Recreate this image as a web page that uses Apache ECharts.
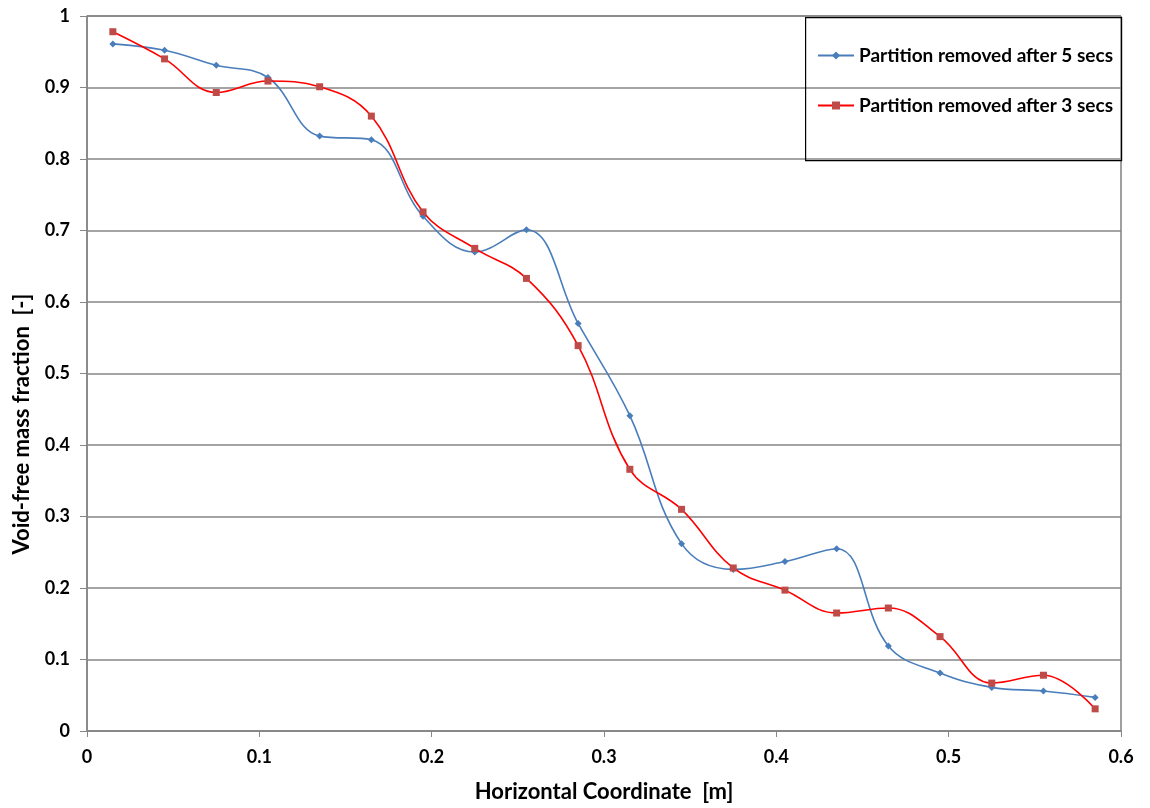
<!DOCTYPE html>
<html>
<head>
<meta charset="utf-8">
<script src="https://cdn.jsdelivr.net/npm/echarts@6/dist/echarts.min.js"></script>
<style>
html,body{margin:0;padding:0;background:#fff;}
#chart{width:1150px;height:808px;}
</style>
</head>
<body>
<div id="chart"></div>
<script>
const xCoords = [0.015,0.045,0.075,0.105,0.135,0.165,0.195,0.225,0.255,0.285,0.315,0.345,0.375,0.405,0.435,0.465,0.495,0.525,0.555,0.585];
const after5 = [0.961,0.952,0.931,0.914,0.832,0.827,0.720,0.670,0.701,0.570,0.441,0.262,0.226,0.237,0.255,0.119,0.081,0.061,0.056,0.047];
const after3 = [0.978,0.940,0.893,0.909,0.901,0.860,0.726,0.675,0.633,0.539,0.366,0.310,0.228,0.197,0.165,0.172,0.132,0.067,0.078,0.031];
const seriesNames = ['Partition removed after 5 secs','Partition removed after 3 secs'];
const xTitle = 'Horizontal Coordinate  [m]';
const yTitle = 'Void-free mass fraction  [-]';

const FONT = 'Lato, "Open Sans", sans-serif';
const chart = echarts.init(document.getElementById('chart'), null, {renderer:'canvas'});
const pair = (xs, ys) => xs.map((x,i)=>[x, ys[i]]);

chart.setOption({
  animation:false,
  backgroundColor:'#fff',
  grid:{left:87, right:29, top:16, bottom:77, show:true, borderColor:'#404040', borderWidth:1, backgroundColor:'transparent'},
  xAxis:{
    type:'value', min:0, max:0.6, interval:0.1,
    name:xTitle, nameLocation:'middle', nameGap:50,
    nameTextStyle:{fontFamily:FONT, fontWeight:'bold', fontSize:22, color:'#000'},
    axisLine:{show:true, lineStyle:{color:'#868686', width:1.5}},
    axisTick:{show:true, inside:false, length:6, lineStyle:{color:'#868686'}},
    axisLabel:{fontFamily:FONT, fontWeight:'bold', fontSize:18, color:'#000', margin:17,
      formatter:v=>String(Math.round(v*10)/10)},
    splitLine:{show:false}
  },
  yAxis:{
    type:'value', min:0, max:1, interval:0.1,
    axisLine:{show:true, lineStyle:{color:'#868686', width:1.5}},
    axisTick:{show:true, inside:false, length:7, lineStyle:{color:'#868686'}},
    axisLabel:{fontFamily:FONT, fontWeight:'bold', fontSize:18, color:'#000', margin:17,
      formatter:v=>String(Math.round(v*10)/10)},
    splitLine:{show:true, lineStyle:{color:'#868686', width:1.5}}
  },
  legend:{
    orient:'vertical', left:812, top:41, itemGap:31,
    itemWidth:36, itemHeight:10,
    textStyle:{fontFamily:FONT, fontWeight:'bold', fontSize:19, color:'#000'},
    data:[{name:seriesNames[0]},{name:seriesNames[1]}]
  },
  graphic:[{
    type:'rect', left:805, top:17, silent:true, z:100,
    shape:{width:316, height:143},
    style:{fill:'transparent', stroke:'#000', lineWidth:1.2}
  },{
    type:'text', x:22, y:424, rotation:Math.PI/2, silent:true,
    style:{text:yTitle, font:'bold 22px ' + FONT, fill:'#000', textAlign:'center', textVerticalAlign:'middle'}
  }],
  series:[
    {
      name:seriesNames[0], type:'line', smooth:0.4,
      data:pair(xCoords, after5),
      symbol:'diamond', symbolSize:7,
      itemStyle:{color:'#4a7ebb'},
      lineStyle:{color:'#4a7ebb', width:1.6}, z:3
    },
    {
      name:seriesNames[1], type:'line', smooth:0.4,
      data:pair(xCoords, after3),
      symbol:'rect', symbolSize:7,
      itemStyle:{color:'#be4b48'},
      lineStyle:{color:'#ff0000', width:1.6}, z:4
    }
  ]
});
</script>
</body>
</html>
